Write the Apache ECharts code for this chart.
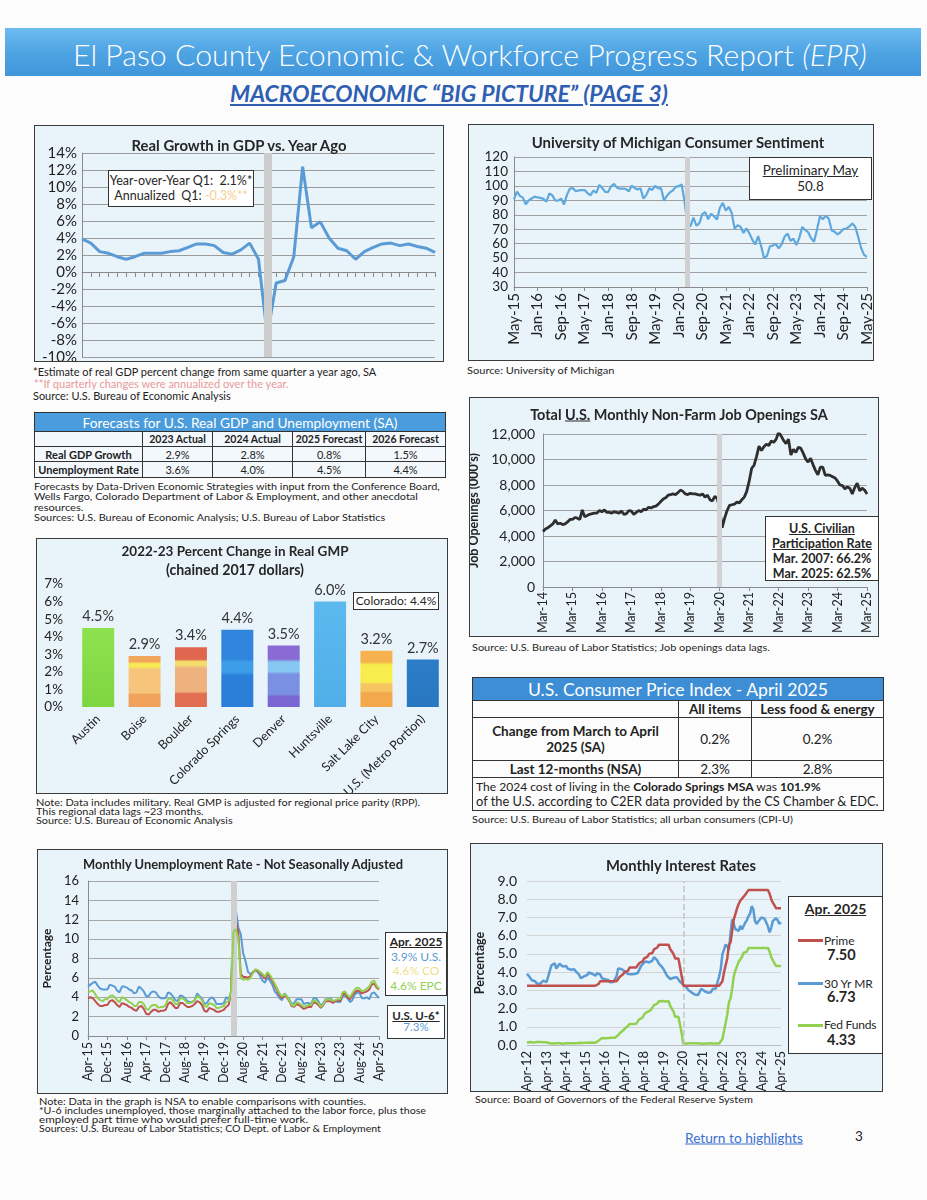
<!DOCTYPE html>
<html>
<head>
<meta charset="utf-8">
<title>El Paso County Economic & Workforce Progress Report - Page 3</title>
<script src="https://cdn.jsdelivr.net/npm/echarts@6.0.0/dist/echarts.min.js"></script>
<style>
html,body{margin:0;padding:0;background:#fcfcfc;}
body{font-family:Lato,'Open Sans',sans-serif;color:#222;}
#page{position:relative;width:927px;height:1200px;overflow:hidden;}
.banner{position:absolute;left:5px;top:28px;width:916px;height:48px;background:linear-gradient(180deg,#6dbcf1 0%,#4fa4e3 50%,#4096da 100%);}
.banner span{position:absolute;left:465px;top:26px;transform:translate(-50%,-50%);color:#fff;font-size:29px;font-weight:300;white-space:nowrap;}
.subtitle{position:absolute;left:449px;top:93px;transform:translate(-50%,-50%);font-size:19.5px;font-weight:bold;font-style:italic;color:#2f5fb3;text-decoration:underline;white-space:nowrap;}
.box{position:absolute;box-sizing:border-box;border:1px solid #3c3c3c;background:#e9f4fa;}
.chart{position:absolute;left:0;top:0;right:0;bottom:0;}
.ctitle{position:absolute;font-weight:bold;white-space:nowrap;transform:translate(-50%,-50%);color:#262626;font-size:15px;}
.note{position:absolute;white-space:nowrap;color:#1e1e1e;font-size:10px;line-height:1;transform:translateY(-50%);transform-origin:left center;}
.ann{position:absolute;box-sizing:border-box;background:#fff;border:1px solid #333;text-align:center;white-space:nowrap;color:#262626;}
.tbl{position:absolute;border-collapse:collapse;table-layout:fixed;}
.tbl td{border:1px solid #333;padding:0;text-align:center;white-space:nowrap;overflow:hidden;}
.fit{display:inline-block;white-space:nowrap;}
u{text-decoration:underline;}
</style>
</head>
<body>
<div id="page">
  <div class="banner"><span data-w="794">El Paso County Economic &amp; Workforce Progress Report <i>(EPR)</i></span></div>
  <div class="subtitle" data-w="438">MACROECONOMIC “BIG PICTURE” (PAGE 3)</div>

  <!-- GDP -->
  <div class="box" style="left:34px;top:125px;width:410px;height:237px;">
    <div class="chart" id="gdpChart"></div>
    <div class="ctitle" style="left:204px;top:19px;" data-w="215">Real Growth in GDP vs. Year Ago</div>
    <div class="ann" style="left:73px;top:44px;width:146px;height:37px;font-size:12.5px;line-height:14.5px;padding-top:3px;">
      Year-over-Year Q1:&nbsp; 2.1%*<br>Annualized&nbsp; Q1: <span style="color:#f5cf96">-0.3%**</span>
    </div>
  </div>
  <div class="note" style="left:33px;top:372px;font-size:10.5px;" data-sx="343">*Estimate of real GDP percent change from same quarter a year ago, SA</div>
  <div class="note" style="left:34px;top:384px;font-size:10.5px;color:#e89a9a;" data-sx="255">**If quarterly changes were annualized over the year.</div>
  <div class="note" style="left:33px;top:396px;font-size:10.5px;" data-sx="198">Source: U.S. Bureau of Economic Analysis</div>

  <!-- Forecast table -->
  <table class="tbl" id="fcTable" style="left:34px;top:412px;width:411px;"></table>
  <div class="note" style="left:34px;top:486px;" data-sx="406">Forecasts by Data-Driven Economic Strategies with input from the Conference Board,</div>
  <div class="note" style="left:34px;top:496px;" data-sx="384">Wells Fargo, Colorado Department of Labor &amp; Employment, and other anecdotal</div>
  <div class="note" style="left:34px;top:507px;" data-sx="49">resources.</div>
  <div class="note" style="left:34px;top:517px;" data-sx="351">Sources: U.S. Bureau of Economic Analysis; U.S. Bureau of Labor Statistics</div>

  <!-- GMP -->
  <div class="box" style="left:36px;top:538px;width:412px;height:256px;">
    <div class="chart" id="gmpChart"></div>
    <div class="ctitle" style="left:198px;top:12px;" data-w="227">2022-23 Percent Change in Real GMP</div>
    <div class="ctitle" style="left:198px;top:30px;" data-w="138">(chained 2017 dollars)</div>
    <div class="ann" style="left:316px;top:53px;width:86px;height:18px;font-size:12px;line-height:16px;">Colorado: 4.4%</div>
  </div>
  <div class="note" style="left:36px;top:803px;font-size:9.5px;" data-sx="384">Note: Data includes military. Real GMP is adjusted for regional price parity (RPP).</div>
  <div class="note" style="left:36px;top:812px;font-size:9.5px;" data-sx="168">This regional data lags ~23 months.</div>
  <div class="note" style="left:36px;top:821px;font-size:9.5px;" data-sx="197">Source: U.S. Bureau of Economic Analysis</div>

  <!-- Unemployment -->
  <div class="box" style="left:37px;top:849px;width:411px;height:245px;">
    <div class="chart" id="unempChart"></div>
    <div class="ctitle" style="left:205px;top:14px;" data-w="320">Monthly Unemployment Rate - Not Seasonally Adjusted</div>
    <div class="ann" style="left:347px;top:82px;width:62px;height:64px;font-size:12px;line-height:14.5px;padding-top:2px;">
      <b><u>Apr. 2025</u></b><br><span style="color:#5b9bd5">3.9% U.S.</span><br><span style="color:#efe08e">4.6% CO</span><br><span style="color:#92d050">4.6% EPC</span>
    </div>
    <div class="ann" style="left:349px;top:155px;width:58px;height:34px;font-size:11.5px;line-height:11px;padding-top:4px;">
      <b><u>U.S. U-6*</u></b><br><span style="color:#5b9bd5">7.3%</span>
    </div>
  </div>
  <div class="note" style="left:39px;top:1102px;font-size:9.5px;" data-sx="327">Note: Data in the graph is NSA to enable comparisons with counties.</div>
  <div class="note" style="left:39px;top:1111px;font-size:9.5px;" data-sx="387">*U-6 includes unemployed, those marginally attached to the labor force, plus those</div>
  <div class="note" style="left:39px;top:1120px;font-size:9.5px;" data-sx="269">employed part time who would prefer full-time work.</div>
  <div class="note" style="left:39px;top:1129px;font-size:9.5px;" data-sx="342">Sources: U.S. Bureau of Labor Statistics; CO Dept. of Labor &amp; Employment</div>

  <!-- Sentiment -->
  <div class="box" style="left:468px;top:124px;width:406px;height:237px;">
    <div class="chart" id="sentChart"></div>
    <div class="ctitle" style="left:209px;top:17px;" data-w="293">University of Michigan Consumer Sentiment</div>
    <div class="ann" style="left:280px;top:32px;width:123px;height:43px;font-size:13.5px;line-height:16px;padding-top:4px;">
      <u>Preliminary May</u><br>50.8
    </div>
  </div>
  <div class="note" style="left:467px;top:370px;" data-sx="148">Source: University of Michigan</div>

  <!-- Job openings -->
  <div class="box" style="left:469px;top:397px;width:410px;height:240px;">
    <div class="chart" id="jobChart"></div>
    <div class="ctitle" style="left:209px;top:16px;" data-w="298">Total <u>U.S.</u> Monthly Non-Farm Job Openings SA</div>
    <div class="ann" style="left:295px;top:118px;width:114px;height:65px;font-size:12.5px;line-height:15px;padding-top:4px;font-weight:bold;">
      <u>U.S. Civilian</u><br><u>Participation Rate</u><br>Mar. 2007: 66.2%<br>Mar. 2025: 62.5%
    </div>
  </div>
  <div class="note" style="left:472px;top:647px;" data-sx="298">Source: U.S. Bureau of Labor Statistics; Job openings data lags.</div>

  <!-- CPI table -->
  <table class="tbl" id="cpiTable" style="left:472px;top:677px;width:411px;"></table>
  <div class="note" style="left:472px;top:819px;" data-sx="321">Source: U.S. Bureau of Labor Statistics; all urban consumers (CPI-U)</div>

  <!-- Interest rates -->
  <div class="box" style="left:470px;top:843px;width:413px;height:249px;">
    <div class="chart" id="rateChart"></div>
    <div class="ctitle" style="left:210px;top:21px;" data-w="150">Monthly Interest Rates</div>
    <div class="ann" style="left:317px;top:52px;width:95px;height:158px;text-align:left;">
      <div style="position:absolute;left:0;width:93px;top:3px;text-align:center;font-weight:bold;font-size:14px;"><u>Apr. 2025</u></div>
      <div style="position:absolute;left:9px;top:42px;width:25px;height:3px;background:#c0504d;"></div>
      <div style="position:absolute;left:35px;top:36px;font-size:12px;">Prime</div>
      <div style="position:absolute;left:38px;top:49px;font-size:14.5px;font-weight:bold;">7.50</div>
      <div style="position:absolute;left:9px;top:85px;width:25px;height:3px;background:#5b9bd5;"></div>
      <div style="position:absolute;left:35px;top:79px;font-size:12px;">30 Yr MR</div>
      <div style="position:absolute;left:38px;top:91px;font-size:14.5px;font-weight:bold;">6.73</div>
      <div style="position:absolute;left:9px;top:127px;width:25px;height:3px;background:#92d050;"></div>
      <div style="position:absolute;left:35px;top:120px;font-size:12px;letter-spacing:-0.2px;">Fed Funds</div>
      <div style="position:absolute;left:38px;top:134px;font-size:14.5px;font-weight:bold;">4.33</div>
    </div>
  </div>
  <div class="note" style="left:475px;top:1099px;" data-sx="278">Source: Board of Governors of the Federal Reserve System</div>

  <div class="note" style="left:685px;top:1138px;font-size:13px;color:#3a6fd2;text-decoration:underline;" data-sx="118">Return to highlights</div>
  <div class="note" style="left:855px;top:1137px;font-size:13.5px;">3</div>
</div>

<script>
// ---------------- DATA ----------------
// Real GDP growth vs. year ago (%), quarterly 2015 Q1 .. 2025 Q1
const gdpStartYear = 2015;
const gdpValues = [3.9,3.4,2.4,2.2, 1.8,1.5,1.8,2.2, 2.2,2.2,2.4,2.5, 2.9,3.3,3.3,3.1,
                   2.3,2.1,2.6,3.4, 1.5,-7.5,-1.3,-1.0, 1.8,12.4,5.2,5.9, 4.0,2.8,2.5,1.5,
                   2.4,2.9,3.3,3.4, 3.1,3.3,3.0,2.8, 2.3];

// Forecast table
const fcColumns = ['2023 Actual','2024 Actual','2025 Forecast','2026 Forecast'];
const fcRowLabels = ['Real GDP Growth','Unemployment Rate'];
const fcGdp = ['2.9%','2.8%','0.8%','1.5%'];
const fcUnemp = ['3.6%','4.0%','4.5%','4.4%'];

// GMP
const gmpCities = ['Austin','Boise','Boulder','Colorado Springs','Denver','Huntsville','Salt Lake City','U.S. (Metro Portion)'];
const gmpValues = [4.5,2.9,3.4,4.4,3.5,6.0,3.2,2.7];

// UMich consumer sentiment, monthly May-15 .. May-25
const sentStart = {month:4, year:2015};
const sentValues = [
  90.7,96.1,93.1,91.9,87.2,90.0,91.3,92.6,
  92.0,91.7,91.0,89.0,94.7,93.5,90.0,89.8,91.2,87.2,93.8,98.2,
  98.5,96.3,96.9,97.0,97.1,95.0,93.4,96.8,95.1,100.7,98.5,95.9,
  95.7,99.7,101.4,98.8,98.0,98.2,97.9,96.2,100.1,98.6,97.5,98.3,
  91.2,93.8,98.4,97.2,100.0,98.2,98.4,89.8,93.2,95.5,96.8,99.3,
  99.8,101.0,89.1,71.8,72.3,78.1,72.5,74.1,80.4,81.8,76.9,80.7,
  79.0,76.8,84.9,88.3,82.9,85.5,81.2,70.3,72.8,71.7,67.4,70.6,
  67.2,62.8,59.4,65.2,58.4,50.0,51.5,58.2,58.6,59.9,56.8,59.7,
  64.9,67.0,62.0,63.5,59.0,64.2,71.6,69.5,67.9,63.8,61.3,69.7,
  79.0,76.9,79.4,77.2,69.1,68.2,66.4,67.9,70.1,70.5,71.8,74.0,
  71.7,64.7,57.0,52.2,50.8];

// JOLTS job openings (000's), monthly Mar-14 .. Mar-25
const jobStart = {month:2, year:2014};
const jobValues = [
  4350,4550,4650,4800,4950,5250,4950,5000,4900,4950,
  5100,5300,5300,5450,5400,5300,6050,5500,5600,5700,5750,5800,
  5800,6000,5900,6050,5850,5850,5800,5900,5850,5800,5950,5700,
  5750,6000,5950,5700,5850,6000,5900,6100,6050,6250,6200,6300,
  6350,6500,6700,6900,7000,7200,7250,7300,7250,7400,7600,7500,
  7300,7250,7350,7300,7300,7250,7200,7300,7050,7200,6850,6750,
  7100,6950,6100,4650,5400,6000,6400,6450,6500,6650,6600,6850,
  7050,7500,8300,9300,9550,10250,11050,10700,11000,11200,11100,11450,
  11350,11600,12150,11850,11500,11250,11600,10350,10800,10550,10950,10900,
  10500,10050,9800,10100,9600,9150,8800,9400,9400,8750,8800,8750,
  8650,8550,8300,8000,7950,7700,7850,7750,7300,7800,8150,7550,
  7750,7600,7300];

// CPI table
const cpiColumns = ['All items','Less food & energy'];
const cpiMonthly = ['0.2%','0.2%'];
const cpi12Month = ['2.3%','2.8%'];

// Unemployment rate NSA (%), monthly Apr-15 .. Apr-25
const unempStart = {month:3, year:2015};
const usUnemp = [
  5.1,5.3,5.5,5.6,5.2,4.9,4.8,4.8,4.8,
  5.3,5.2,5.1,4.7,4.5,5.1,5.1,5.0,4.8,4.7,4.4,4.5,
  5.1,4.9,4.6,4.1,4.1,4.5,4.6,4.5,4.1,3.9,3.9,3.9,
  4.5,4.4,4.1,3.7,3.6,4.2,4.1,3.9,3.6,3.5,3.5,3.7,
  4.4,4.1,3.9,3.3,3.4,3.8,4.0,3.8,3.3,3.3,3.3,3.4,
  4.0,3.8,4.5,14.4,13.0,11.2,10.5,8.5,7.7,6.6,6.4,6.5,
  6.8,6.6,6.2,5.7,5.5,6.1,5.7,5.3,4.6,4.3,3.9,3.7,
  4.4,4.1,3.8,3.3,3.4,3.8,3.8,3.8,3.3,3.4,3.4,3.3,
  3.9,3.9,3.6,3.1,3.4,3.8,3.8,3.9,3.6,3.6,3.5,3.5,
  4.1,4.2,3.9,3.5,3.7,4.3,4.5,4.4,3.9,3.9,4.0,3.8,
  4.4,4.5,4.2,3.9];
const coUnemp = [
  3.9,4.0,3.9,3.6,3.3,3.1,3.1,3.2,3.2,
  3.6,3.7,3.5,3.2,3.0,3.4,3.3,3.2,3.0,2.9,2.7,2.6,
  3.0,3.1,2.8,2.3,2.2,2.5,2.7,2.7,2.5,2.6,2.6,2.7,
  3.3,3.5,3.2,2.9,2.9,3.4,3.4,3.2,3.0,3.0,3.1,3.3,
  3.6,3.5,3.2,2.6,2.5,2.9,2.8,2.7,2.5,2.5,2.6,2.7,
  3.0,3.2,4.5,11.2,11.9,10.6,6.4,6.1,6.1,6.0,6.2,6.6,
  6.8,6.7,6.5,6.2,5.9,6.4,6.1,5.7,5.2,4.7,4.2,3.9,
  4.2,4.0,3.6,3.1,3.0,3.3,3.2,3.0,2.8,2.9,3.0,3.0,
  3.5,3.4,3.2,2.9,3.2,3.6,3.6,3.6,3.4,3.6,3.7,3.6,
  4.3,4.4,4.0,3.8,4.2,4.5,4.7,4.6,4.4,4.5,4.6,4.8,
  5.3,5.4,5.0,4.8];
const epcUnemp = [
  4.5,4.6,4.7,4.3,3.9,3.7,3.6,3.8,3.8,
  4.1,4.2,4.0,3.7,3.5,4.0,3.9,3.7,3.5,3.4,3.1,3.1,
  3.5,3.5,3.3,2.8,2.7,3.1,3.2,3.2,2.9,3.0,3.0,3.2,
  3.8,3.9,3.7,3.3,3.3,3.9,3.9,3.7,3.4,3.4,3.5,3.7,
  4.1,4.0,3.7,3.1,3.0,3.4,3.3,3.2,2.9,2.9,3.0,3.1,
  3.5,3.6,4.7,10.8,11.0,10.0,6.0,5.8,5.9,5.8,6.0,6.5,
  6.9,6.8,6.6,6.4,6.1,6.6,6.3,5.9,5.4,4.9,4.4,4.1,
  4.3,4.1,3.7,3.2,3.1,3.5,3.4,3.2,3.0,3.1,3.2,3.2,
  3.7,3.6,3.4,3.0,3.3,3.7,3.8,3.8,3.6,3.7,3.8,3.8,
  4.5,4.6,4.2,4.0,4.4,4.8,5.0,4.9,4.6,4.7,4.9,5.1,
  5.6,5.7,5.2,4.9];

// Interest rates (%), monthly Apr-12 .. Apr-25
const rateStart = {month:3, year:2012};
const primeRate = [
  3.25,3.25,3.25,3.25,3.25,3.25,3.25,3.25,3.25,
  3.25,3.25,3.25,3.25,3.25,3.25,3.25,3.25,3.25,3.25,3.25,3.25,
  3.25,3.25,3.25,3.25,3.25,3.25,3.25,3.25,3.25,3.25,3.25,3.25,
  3.25,3.25,3.25,3.25,3.25,3.25,3.25,3.25,3.25,3.25,3.25,3.35,
  3.50,3.50,3.50,3.50,3.50,3.50,3.50,3.50,3.50,3.50,3.50,3.60,
  3.75,3.75,3.88,4.00,4.00,4.07,4.25,4.25,4.25,4.25,4.25,4.34,
  4.50,4.50,4.59,4.75,4.75,4.85,5.00,5.00,5.05,5.25,5.25,5.35,
  5.50,5.50,5.50,5.50,5.50,5.50,5.50,5.25,5.13,4.99,4.75,4.75,
  4.75,4.75,3.78,3.25,3.25,3.25,3.25,3.25,3.25,3.25,3.25,3.25,
  3.25,3.25,3.25,3.25,3.25,3.25,3.25,3.25,3.25,3.25,3.25,3.25,
  3.25,3.25,3.37,3.50,3.98,4.38,4.75,5.50,5.62,6.25,6.90,7.18,
  7.50,7.74,7.92,8.00,8.14,8.25,8.30,8.50,8.50,8.50,8.50,8.50,
  8.50,8.50,8.50,8.50,8.50,8.50,8.50,8.50,8.30,8.00,7.81,7.66,
  7.50,7.50,7.50,7.50];
const mortgage30 = [
  3.91,3.80,3.68,3.55,3.60,3.50,3.38,3.35,3.35,
  3.41,3.53,3.57,3.45,3.54,4.07,4.37,4.46,4.49,4.19,4.26,4.46,
  4.43,4.30,4.34,4.34,4.19,4.16,4.13,4.12,4.16,4.04,4.00,3.86,
  3.67,3.71,3.77,3.67,3.84,3.98,4.05,3.91,3.89,3.80,3.94,3.96,
  3.87,3.66,3.69,3.61,3.60,3.57,3.44,3.44,3.46,3.47,3.77,4.20,
  4.15,4.17,4.20,4.05,4.01,3.90,3.97,3.88,3.81,3.90,3.92,3.95,
  4.03,4.33,4.44,4.47,4.59,4.57,4.53,4.55,4.63,4.83,4.87,4.64,
  4.46,4.37,4.27,4.14,4.07,3.80,3.77,3.62,3.61,3.69,3.70,3.72,
  3.62,3.47,3.45,3.31,3.23,3.16,3.02,2.94,2.89,2.83,2.77,2.68,
  2.74,2.81,3.08,3.06,2.96,2.98,2.87,2.84,2.90,3.07,3.07,3.10,
  3.45,3.76,4.17,4.98,5.23,5.52,5.41,5.22,6.11,6.90,6.81,6.36,
  6.27,6.26,6.54,6.34,6.43,6.71,6.84,7.07,7.20,7.62,7.44,6.82,
  6.64,6.78,6.82,7.00,7.06,6.92,6.85,6.50,6.18,6.43,6.81,6.72,
  6.96,6.84,6.65,6.73];
const fedFunds = [
  0.14,0.16,0.16,0.16,0.13,0.14,0.16,0.16,0.16,
  0.14,0.15,0.14,0.15,0.11,0.09,0.09,0.08,0.08,0.09,0.08,0.09,
  0.07,0.07,0.08,0.09,0.09,0.10,0.09,0.09,0.09,0.09,0.09,0.12,
  0.11,0.11,0.11,0.12,0.12,0.13,0.13,0.14,0.14,0.12,0.12,0.24,
  0.34,0.38,0.36,0.37,0.37,0.38,0.39,0.40,0.40,0.40,0.41,0.54,
  0.65,0.66,0.79,0.90,0.91,1.04,1.15,1.16,1.15,1.15,1.16,1.30,
  1.41,1.42,1.51,1.69,1.70,1.82,1.91,1.91,1.95,2.19,2.20,2.27,
  2.40,2.40,2.41,2.42,2.39,2.38,2.40,2.13,2.04,1.83,1.55,1.55,
  1.55,1.58,0.65,0.05,0.05,0.08,0.09,0.10,0.09,0.09,0.09,0.09,
  0.09,0.08,0.07,0.07,0.06,0.08,0.10,0.09,0.08,0.08,0.08,0.08,
  0.08,0.08,0.20,0.33,0.77,1.21,1.68,2.33,2.56,3.08,3.78,4.10,
  4.33,4.57,4.65,4.83,5.06,5.08,5.12,5.33,5.33,5.33,5.33,5.33,
  5.33,5.33,5.33,5.33,5.33,5.33,5.33,5.33,5.13,4.83,4.64,4.48,
  4.33,4.33,4.33,4.33];

// ---------------- HELPERS ----------------
const FONT = 'Lato, "Open Sans", sans-serif';
const MON = ['Jan','Feb','Mar','Apr','May','Jun','Jul','Aug','Sep','Oct','Nov','Dec'];
function monthCats(start, n){
  const out=[]; let m=start.month, y=start.year;
  for(let i=0;i<n;i++){ out.push(MON[m]+'-'+String(y%100).padStart(2,'0')); m++; if(m===12){m=0;y++;} }
  return out;
}
function quarterCats(y0, n){
  const out=[]; for(let i=0;i<n;i++){ out.push((y0+Math.floor(i/4))+' Q'+(i%4+1)); } return out;
}
function bandSeries(cat, width, color, type){
  return {type:'line',data:[],silent:true,z:1,animation:false,
    markLine:{silent:true,animation:false,symbol:['none','none'],label:{show:false},
      lineStyle:{color:color,width:width,type:type||'solid',opacity:1},
      emphasis:{disabled:true},data:[{xAxis:cat}]}};
}
function lineSeries(data,color,width,z){
  return {type:'line',data:data,symbol:'none',showSymbol:false,z:z||3,lineStyle:{color:color,width:width},itemStyle:{color:color},emphasis:{disabled:true}};
}
function mk(id){ return echarts.init(document.getElementById(id),null,{renderer:'canvas'}); }
const axisLbl = (size, extra) => Object.assign({fontFamily:FONT,fontSize:size,color:'#222'}, extra||{});
const valLbl = (size, extra) => axisLbl(size, Object.assign({showMinLabel:true,showMaxLabel:true,hideOverlap:false}, extra||{}));

// ---------------- GDP ----------------
const gdpCats = quarterCats(gdpStartYear, gdpValues.length);
mk('gdpChart').setOption({
  animation:false, textStyle:{fontFamily:FONT},
  grid:{left:47,right:8,top:27,bottom:4,containLabel:false,outerBoundsMode:'none'},
  xAxis:{type:'category',data:gdpCats,boundaryGap:false,
    axisLine:{onZero:true,lineStyle:{color:'#8a8a8a',width:1}},
    axisTick:{show:true,interval:0,length:5,lineStyle:{color:'#8a8a8a'}},
    axisLabel:axisLbl(14,{interval:3,rotate:90,margin:9}),splitLine:{show:false}},
  yAxis:{type:'value',min:-10,max:14,interval:2,
    axisLine:{show:true,lineStyle:{color:'#8a8a8a'}},axisTick:{show:false},
    axisLabel:valLbl(15,{formatter:'{value}%',margin:5}),
    splitLine:{lineStyle:{color:'#9c9c9c'}}},
  series:[bandSeries('2020 Q2',8,'#cdcdcd'), lineSeries(gdpValues,'#5b9bd5',3)]
});

// ---------------- Forecast table ----------------
(function(){
  const t=document.getElementById('fcTable');
  const widths=[108,70,80,73,80];
  let h='<colgroup>'+widths.map(w=>'<col style="width:'+w+'px">').join('')+'</colgroup>';
  h+='<tr style="height:19px"><td colspan="5" style="background:#4b9cdc;color:#fff;font-size:15px;"><span class="fit" data-w="315">Forecasts for U.S. Real GDP and Unemployment (SA)</span></td></tr>';
  h+='<tr style="height:15px;background:#f3f8fc"><td></td>'+fcColumns.map(c=>'<td style="font-weight:bold;font-size:10.5px">'+c+'</td>').join('')+'</tr>';
  const rows=[fcGdp,fcUnemp];
  rows.forEach((r,i)=>{
    h+='<tr style="height:'+(i?16:15)+'px;background:#f3f8fc"><td style="font-weight:bold;font-size:11px">'+fcRowLabels[i]+'</td>'+r.map(v=>'<td style="font-size:11px">'+v+'</td>').join('')+'</tr>';
  });
  t.innerHTML=h;
})();

// ---------------- GMP bars ----------------
const gmpFills = [
  [[0,'#8fe24f'],[1,'#7dd540']],
  [[0,'#f2a65c'],[0.11,'#f2a65c'],[0.15,'#f6ea55'],[0.21,'#f6ea55'],[0.26,'#f7c47c'],[0.72,'#f7c47c'],[0.76,'#f0a15c'],[1,'#f0a15c']],
  [[0,'#e0654e'],[0.2,'#e0654e'],[0.24,'#f3dc6c'],[0.3,'#f3dc6c'],[0.35,'#eeb27e'],[0.74,'#eeb27e'],[0.78,'#e26e52'],[1,'#e26e52']],
  [[0,'#2f86dc'],[0.38,'#2f86dc'],[0.42,'#3d9de9'],[0.55,'#3d9de9'],[0.59,'#2a80d8'],[1,'#2a80d8']],
  [[0,'#8a6bd6'],[0.22,'#8a6bd6'],[0.27,'#86c8f2'],[0.42,'#86c8f2'],[0.47,'#7a90e2'],[0.79,'#7a90e2'],[0.83,'#7a66d2'],[1,'#7a66d2']],
  [[0,'#5cb9ee'],[1,'#50afe8']],
  [[0,'#f5b24e'],[0.2,'#f5b24e'],[0.25,'#f7ee4e'],[0.55,'#f7ee4e'],[0.6,'#f7c462'],[0.71,'#f7c462'],[0.75,'#f4a84c'],[1,'#f4a84c']],
  [[0,'#2b7dc8'],[1,'#2877c0']]
];
function grad(stops){ return new echarts.graphic.LinearGradient(0,0,0,1,stops.map(s=>({offset:s[0],color:s[1]}))); }
mk('gmpChart').setOption({
  animation:false, textStyle:{fontFamily:FONT},
  grid:{left:38,right:1,top:45,bottom:86,containLabel:false,outerBoundsMode:'none'},
  xAxis:{type:'category',data:gmpCities,axisLine:{show:false},axisTick:{show:false},
    axisLabel:axisLbl(12.5,{rotate:45,margin:10,interval:0})},
  yAxis:{type:'value',min:0,max:7,interval:1,axisLine:{show:false},axisTick:{show:false},
    axisLabel:valLbl(13.5,{formatter:'{value}%',margin:12}),splitLine:{show:false}},
  series:[{type:'bar',barWidth:32,
    data:gmpValues.map((v,i)=>({value:v,itemStyle:{color:grad(gmpFills[i])}})),
    label:{show:true,position:'top',distance:4,fontFamily:FONT,fontSize:14.5,color:'#333',
      formatter:p=>Number(p.value).toFixed(1)+'%'}}]
});

// ---------------- Unemployment ----------------
const unempCats = monthCats(unempStart, usUnemp.length);
mk('unempChart').setOption({
  animation:false, textStyle:{fontFamily:FONT},
  grid:{left:50,right:68,top:31,bottom:57,containLabel:false,outerBoundsMode:'none'},
  xAxis:{type:'category',data:unempCats,boundaryGap:false,
    axisLine:{lineStyle:{color:'#8a8a8a'}},
    axisTick:{show:true,interval:7,length:4,lineStyle:{color:'#8a8a8a'}},
    axisLabel:axisLbl(12.5,{interval:7,rotate:90,margin:6})},
  yAxis:{type:'value',min:0,max:16,interval:2,
    name:'Percentage',nameLocation:'middle',nameGap:34,nameRotate:90,
    nameTextStyle:{fontFamily:FONT,fontSize:12,fontWeight:'bold',color:'#222'},
    axisLine:{show:true,lineStyle:{color:'#8a8a8a'}},axisTick:{show:false},
    axisLabel:valLbl(13,{margin:9}),splitLine:{lineStyle:{color:'#a8a8a8'}}},
  series:[bandSeries(unempCats[60],6,'#cfcfcf'),
    lineSeries(usUnemp,'#5b9bd5',2,3),
    lineSeries(coUnemp,'#c0504d',2,4),
    lineSeries(epcUnemp,'#92d050',2,5)]
});

// ---------------- Sentiment ----------------
const sentCats = monthCats(sentStart, sentValues.length);
mk('sentChart').setOption({
  animation:false, textStyle:{fontFamily:FONT},
  grid:{left:45,right:6,top:32,bottom:73,containLabel:false,outerBoundsMode:'none'},
  xAxis:{type:'category',data:sentCats,boundaryGap:false,
    axisLine:{lineStyle:{color:'#8a8a8a'}},
    axisTick:{show:true,interval:7,length:4,lineStyle:{color:'#8a8a8a'}},
    axisLabel:axisLbl(15,{interval:7,rotate:90,margin:6})},
  yAxis:{type:'value',min:30,max:120,interval:10,
    axisLine:{show:true,lineStyle:{color:'#8a8a8a'}},axisTick:{show:false},
    axisLabel:valLbl(13.5,{margin:6}),splitLine:{lineStyle:{color:'#a0a0a0'}}},
  series:[bandSeries(sentCats[59],5,'#cfcfcf'), lineSeries(sentValues,'#5fa8de',2.2)]
});

// ---------------- Job openings ----------------
const jobCats = monthCats(jobStart, jobValues.length);
mk('jobChart').setOption({
  animation:false, textStyle:{fontFamily:FONT},
  grid:{left:73,right:11,top:36,bottom:49,containLabel:false,outerBoundsMode:'none'},
  xAxis:{type:'category',data:jobCats,boundaryGap:false,
    axisLine:{lineStyle:{color:'#8a8a8a'}},
    axisTick:{show:true,interval:11,length:4,lineStyle:{color:'#8a8a8a'}},
    axisLabel:axisLbl(12.5,{interval:11,rotate:90,margin:5})},
  yAxis:{type:'value',min:0,max:12000,interval:2000,
    name:"Job Openings (000's)",nameLocation:'middle',nameGap:60,nameRotate:90,
    nameTextStyle:{fontFamily:FONT,fontSize:12.5,fontWeight:'bold',color:'#222'},
    axisLine:{show:true,lineStyle:{color:'#8a8a8a'}},axisTick:{show:false},
    axisLabel:valLbl(14,{margin:8,formatter:v=>v.toLocaleString('en-US')}),
    splitLine:{lineStyle:{color:'#a0a0a0'}}},
  series:[bandSeries(jobCats[72],5,'#d2d2d2'), lineSeries(jobValues,'#2e2e2e',2.8)]
});

// ---------------- CPI table ----------------
(function(){
  const t=document.getElementById('cpiTable');
  const widths=[206,73,132];
  let h='<colgroup>'+widths.map(w=>'<col style="width:'+w+'px">').join('')+'</colgroup>';
  h+='<tr style="height:22px"><td colspan="3" style="background:#3d8ed5;color:#fff;font-size:18px;"><span class="fit" data-w="300">U.S. Consumer Price Index - April 2025</span></td></tr>';
  h+='<tr style="height:17px"><td></td>'+cpiColumns.map(c=>'<td style="font-weight:bold;font-size:13.5px">'+c.replace('&','&amp;')+'</td>').join('')+'</tr>';
  h+='<tr style="height:43px"><td style="font-weight:bold;font-size:13.5px;line-height:16px">Change from March to April<br>2025 (SA)</td>'+cpiMonthly.map(v=>'<td style="font-size:13.5px">'+v+'</td>').join('')+'</tr>';
  h+='<tr style="height:15px"><td style="font-weight:bold;font-size:13.5px">Last 12-months (NSA)</td>'+cpi12Month.map(v=>'<td style="font-size:13.5px">'+v+'</td>').join('')+'</tr>';
  h+='<tr style="height:33px"><td colspan="3" style="text-align:left;font-size:13.5px;line-height:15px;padding-left:3px;">'+
     '<span class="fit" data-w="345">The 2024 cost of living in the <b>Colorado Springs MSA</b> was <b>101.9%</b></span><br>'+
     '<span class="fit" data-w="403">of the U.S. according to C2ER data provided by the CS Chamber &amp; EDC.</span></td></tr>';
  t.innerHTML=h;
})();

// ---------------- Interest rates ----------------
const rateCats = monthCats(rateStart, primeRate.length);
mk('rateChart').setOption({
  animation:false, textStyle:{fontFamily:FONT},
  grid:{left:56,right:101,top:37,bottom:46,containLabel:false,outerBoundsMode:'none'},
  xAxis:{type:'category',data:rateCats,boundaryGap:false,
    axisLine:{lineStyle:{color:'#bdbdbd'}},
    axisTick:{show:false},
    axisLabel:axisLbl(13,{interval:11,rotate:90,margin:6})},
  yAxis:{type:'value',min:0,max:9,interval:1,
    name:'Percentage',nameLocation:'middle',nameGap:40,nameRotate:90,
    nameTextStyle:{fontFamily:FONT,fontSize:12.5,fontWeight:'bold',color:'#222'},
    axisLine:{show:false},axisTick:{show:false},
    axisLabel:valLbl(14,{margin:10,formatter:v=>v.toFixed(1)}),
    splitLine:{lineStyle:{color:'#d4d4d4'}}},
  series:[bandSeries(rateCats[96],1.5,'#c4c4c4','dashed'),
    lineSeries(fedFunds,'#92d050',2.5,3),
    lineSeries(mortgage30,'#5b9bd5',2.5,4),
    lineSeries(primeRate,'#c0504d',2.5,5)]
});

// ---------------- fit texts to measured widths ----------------
function fitAll(){
  document.querySelectorAll('[data-w]').forEach(el=>{
    const target=parseFloat(el.dataset.w);
    const w=el.getBoundingClientRect().width;
    if(w>0){ const fs=parseFloat(getComputedStyle(el).fontSize); el.style.fontSize=(fs*target/w).toFixed(2)+'px'; }
  });
  document.querySelectorAll('[data-sx]').forEach(el=>{
    const target=parseFloat(el.dataset.sx);
    const w=el.offsetWidth;
    if(w>0){ el.style.transform='translateY(-50%) scaleX('+(target/w).toFixed(4)+')'; }
  });
}
fitAll();
</script>
</body>
</html>
